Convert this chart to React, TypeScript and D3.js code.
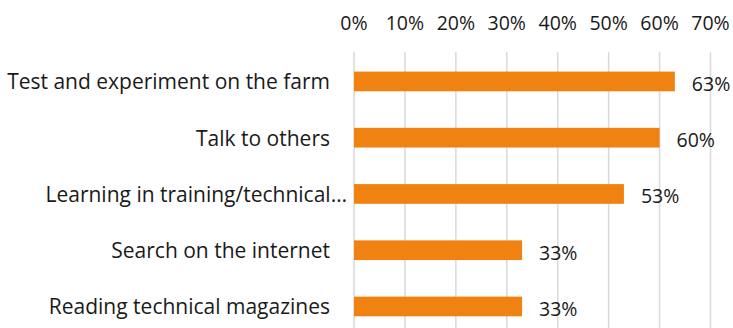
import React from "react";
import * as d3 from "d3";

const categories = [
  "Test and experiment on the farm",
  "Talk to others",
  "Learning in training/technical…",
  "Search on the internet",
  "Reading technical magazines",
];
const values = [0.63, 0.6, 0.53, 0.33, 0.33];
const valueLabels = ["63%", "60%", "53%", "33%", "33%"];
const ticks = [0, 0.1, 0.2, 0.3, 0.4, 0.5, 0.6, 0.7];

const W = 733;
const H = 328;
const FONT = "'Open Sans', sans-serif";

export default function App() {
  const x = d3.scaleLinear().domain([0, 0.7]).range([354, 710.5]);
  const y = d3
    .scaleBand<string>()
    .domain(categories)
    .range([53.3, 334.6])
    .paddingInner(0.65)
    .paddingOuter(0.325);
  const fmt = d3.format(".0%");
  return (
    <svg
      width={W}
      height={H}
      style={{ position: "absolute", left: 0, top: 0, background: "#fff" }}
    >
      {ticks.map((t) => (
        <g key={t}>
          <line
            x1={x(t)}
            x2={x(t)}
            y1={52}
            y2={H}
            stroke="#d9d9d9"
            strokeWidth={1.5}
          />
          <text
            x={x(t)}
            y={30}
            textAnchor="middle"
            fontFamily={FONT}
            fontSize={19.5}
            fill="#1a1a1a"
          >
            {fmt(t)}
          </text>
        </g>
      ))}
      {categories.map((c, i) => {
        const yc = (y(c) as number) + y.bandwidth() / 2;
        const truncated = c.endsWith("…");
        return (
          <g key={c}>
            <rect
              x={x(0)}
              y={y(c)}
              width={x(values[i]) - x(0)}
              height={y.bandwidth()}
              fill="#EF8210"
            />
            <text
              x={truncated ? 347 : 330}
              y={yc + 8}
              textAnchor="end"
              fontFamily={FONT}
              fontSize={21}
              fill="#1a1a1a"
            >
              {c}
            </text>
            <text
              x={x(values[i]) + 17}
              y={yc + 9.5}
              textAnchor="start"
              fontFamily={FONT}
              fontSize={19.5}
              fill="#1a1a1a"
            >
              {valueLabels[i]}
            </text>
          </g>
        );
      })}
    </svg>
  );
}
